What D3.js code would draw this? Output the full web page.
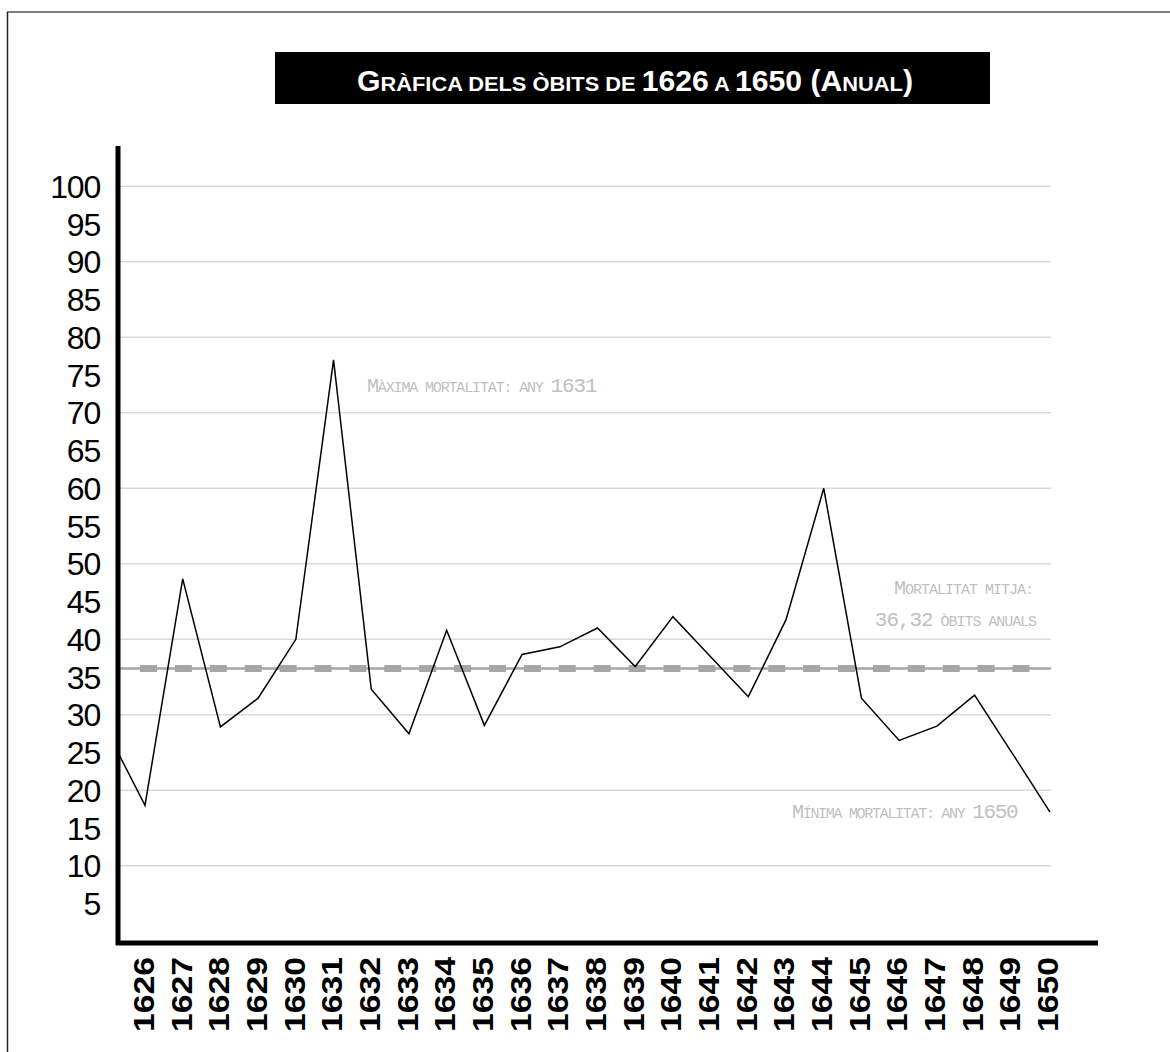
<!DOCTYPE html>
<html>
<head>
<meta charset="utf-8">
<script src="https://cdn.jsdelivr.net/npm/d3@7"></script>
<style>
  html, body { margin: 0; padding: 0; background: #fff; }
  svg { display: block; }
</style>
</head>
<body>
<svg id="chart" width="1170" height="1052"></svg>
<script>
// ---- data ----
const years = [1626,1627,1628,1629,1630,1631,1632,1633,1634,1635,1636,1637,1638,1639,1640,1641,1642,1643,1644,1645,1646,1647,1648,1649,1650];
const deaths = [18,48,28.4,32.2,40,77,33.4,27.5,41.2,28.6,38,39,41.5,36.4,43,37.7,32.4,42.6,60,32.2,26.6,28.5,32.6,24.9,17.1];
const leadInValue = 25;           // value where the series enters at the y axis
const meanValue = 36.32;
const yTickValues = [5,10,15,20,25,30,35,40,45,50,55,60,65,70,75,80,85,90,95,100];
const gridValues = [10,20,30,40,50,60,70,80,90,100];

const svg = d3.select("#chart");

// outer frame (top & left edges visible)
svg.append("line").attr("x1",7).attr("x2",1170).attr("y1",12).attr("y2",12).attr("stroke","#555").attr("stroke-width",1.5);
svg.append("line").attr("x1",7.5).attr("x2",7.5).attr("y1",12).attr("y2",1052).attr("stroke","#222").attr("stroke-width",1.5);

// scales
const x = d3.scalePoint().domain(years).range([145, 1050]);
const y = d3.scaleLinear().domain([0, 100]).range([941.3, 186.3]);
const axisX = 118, plotRight = 1051;

// gridlines
svg.append("g").selectAll("line").data(gridValues).join("line")
  .attr("x1", axisX + 2).attr("x2", plotRight)
  .attr("y1", d => y(d)).attr("y2", d => y(d))
  .attr("stroke", "#d9d9d9").attr("stroke-width", 1.5);

// mean line
svg.append("line").attr("x1", axisX).attr("x2", plotRight)
  .attr("y1", y(meanValue) + 1.5).attr("y2", y(meanValue) + 1.5)
  .attr("stroke", "#a6a6a6").attr("stroke-width", 2.5);
svg.append("line").attr("x1", 140).attr("x2", 1030)
  .attr("y1", y(meanValue) + 1.5).attr("y2", y(meanValue) + 1.5)
  .attr("stroke", "#a6a6a6").attr("stroke-width", 7)
  .attr("stroke-dasharray", "17 17.9");

// data line
const pts = [[axisX, y(leadInValue)]].concat(years.map((yr, i) => [x(yr), y(deaths[i])]));
svg.append("path").attr("d", d3.line()(pts))
  .attr("fill", "none").attr("stroke", "#000").attr("stroke-width", 1.5)
  .attr("stroke-linejoin", "miter");

// axes lines
svg.append("line").attr("x1", axisX).attr("x2", axisX).attr("y1", 146).attr("y2", 945)
  .attr("stroke", "#000").attr("stroke-width", 5);
svg.append("line").attr("x1", 116).attr("x2", 1098).attr("y1", 943).attr("y2", 943)
  .attr("stroke", "#000").attr("stroke-width", 5);

// y tick labels
svg.append("g").selectAll("text").data(yTickValues).join("text")
  .attr("x", 100).attr("y", d => y(d))
  .attr("dy", "0.36em")
  .attr("text-anchor", "end")
  .attr("font-family", "Liberation Sans, Arial, sans-serif")
  .attr("font-size", 32).attr("letter-spacing", "-1.2px")
  .attr("fill", "#000")
  .text(d => d);

// x tick labels (rotated)
const xLabelX = d3.scalePoint().domain(years).range([143, 1047]);
svg.append("g").selectAll("text").data(years).join("text")
  .attr("transform", d => `translate(${xLabelX(d) + 11},957) rotate(-90)`)
  .attr("text-anchor", "end")
  .attr("font-family", "Liberation Sans, Arial, sans-serif")
  .attr("font-weight", "bold")
  .attr("font-size", 30)
  .attr("textLength", 75).attr("lengthAdjust", "spacingAndGlyphs")
  .attr("fill", "#000")
  .text(d => d);

// title
svg.append("rect").attr("x", 275).attr("y", 52).attr("width", 715).attr("height", 52).attr("fill", "#000");
const title = svg.append("text").attr("x", 635).attr("y", 91)
  .attr("text-anchor", "middle")
  .attr("font-family", "Liberation Sans, Arial, sans-serif")
  .attr("font-weight", "bold").attr("fill", "#fff")
  .attr("textLength", 556).attr("lengthAdjust", "spacingAndGlyphs");
const titleParts = [["G",29],["RÀFICA DELS ÒBITS DE ",21],["1626",29],[" A ",21],["1650 (",29],["A",29],["NUAL",21],[")",29]];
titleParts.forEach(p => title.append("tspan").attr("font-size", p[1]).text(p[0]));

// annotations
function note(parts, xPos, yPos, anchor, spacing) {
  const t = svg.append("text").attr("x", xPos).attr("y", yPos)
    .attr("text-anchor", anchor)
    .attr("font-family", "Liberation Mono, DejaVu Sans Mono, monospace")
    .attr("fill", "#bfbfbf")
    .attr("letter-spacing", spacing + "px");
  parts.forEach(p => t.append("tspan").attr("font-size", p[1]).text(p[0]));
}
note([["M",20],["ÀXIMA MORTALITAT: ANY ",15],["1631",21]], 367, 392, "start", -1.15);
note([["M",20],["ORTALITAT MITJA:",15]], 1033, 594, "end", -1.0);
note([["36,32",21],[" ÒBITS ANUALS",15]], 1036, 626, "end", -1.05);
note([["M",20],["ÍNIMA MORTALITAT: ANY ",15],["1650",21]], 792, 818, "start", -1.3);
</script>
</body>
</html>
